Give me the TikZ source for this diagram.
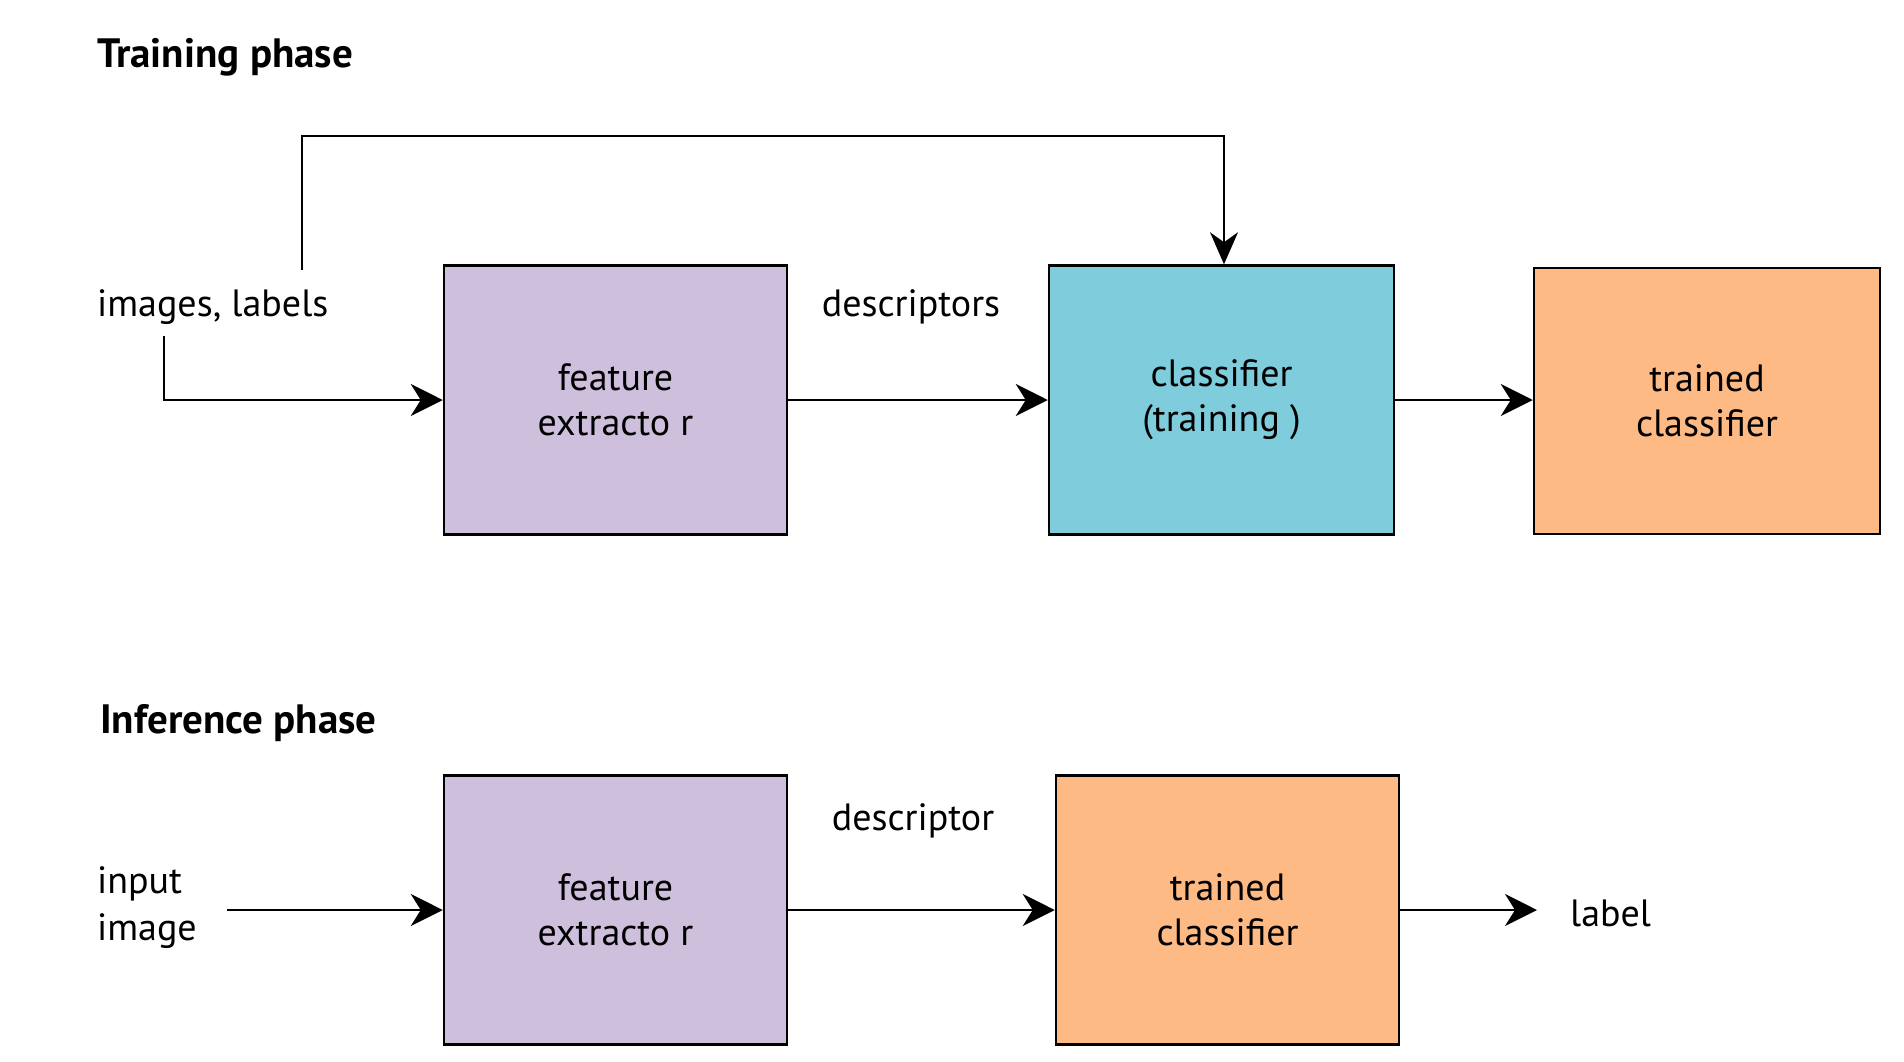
\documentclass[tikz,border=0pt]{standalone}
\usepackage{fontspec}
\setmainfont{PT Sans}
\usetikzlibrary{arrows.meta}
\definecolor{boxpurple}{HTML}{CEBFDD}
\definecolor{boxblue}{HTML}{7ECCDC}
\definecolor{boxorange}{HTML}{FDBA85}
\tikzset{
  blockbox/.style={draw=black, line width=2.5pt, inner sep=0pt, align=center,
    font=\fontsize{38}{45}\selectfont},
  plaintext/.style={inner sep=0pt, align=left, font=\fontsize{38}{47}\selectfont},
  phasetitle/.style={inner sep=0pt, anchor=west, font=\fontsize{41}{46}\selectfont\bfseries},
  flow/.style={line width=2pt, -{Stealth[length=32pt, width=32pt, inset=10pt]}},
  thinflow/.style={line width=1.5pt, -{Stealth[length=32pt, width=28pt, inset=10pt]}}
}
\begin{document}
\begin{tikzpicture}[x=1pt, y=-1pt]
\useasboundingbox (0,0) rectangle (1904,1061);

% titles
\node[phasetitle] (ttrain) at (97,57) {Training phase};
\node[phasetitle] (tinfer) at (100,723) {Inference phase};

% training row
\node[blockbox, fill=boxpurple, minimum width=343pt, minimum height=269pt] (fe1) at (615.5,400) {feature\\extracto r};
\node[blockbox, fill=boxblue, minimum width=345pt, minimum height=269pt] (ct) at (1221.5,400) {classifier\\(training )};
\node[blockbox, fill=boxorange, minimum width=346pt, minimum height=266pt] (tc1) at (1707,401) {trained\\classifier};

\node[plaintext, anchor=west] (inl) at (97,307) {images, labels};
\node[plaintext] (desc1) at (911,307) {descriptors};

\coordinate (inlow) at (164,336);
\coordinate (inup) at (302,270);
\coordinate (topl) at (302,136);
\coordinate (topr) at (1224,136);

\draw[thinflow] (inup) -- (topl) -- (topr) -- (ct.north -| topr);
\draw[flow] (inlow) |- (fe1.west);
\draw[flow] (fe1.east) -- (ct.west);
\draw[flow] (ct.east) -- (ct.east -| tc1.west);

% inference row
\node[plaintext, anchor=west] (inimg) at (97,908) {input\\image};
\node[blockbox, fill=boxpurple, minimum width=343pt, minimum height=269pt] (fe2) at (615.5,910) {feature\\extracto r};
\node[blockbox, fill=boxorange, minimum width=343pt, minimum height=269pt] (tc2) at (1227.5,910) {trained\\classifier};

\node[plaintext] (desc2) at (913,821) {descriptor};
\node[plaintext, anchor=west] (lbl) at (1570,913) {label};

\coordinate (inimgend) at (227,910);
\coordinate (lblstart) at (1537,910);
\draw[flow] (inimgend) -- (fe2.west);
\draw[flow] (fe2.east) -- (tc2.west);
\draw[flow] (tc2.east) -- (lblstart);
\end{tikzpicture}
\end{document}
